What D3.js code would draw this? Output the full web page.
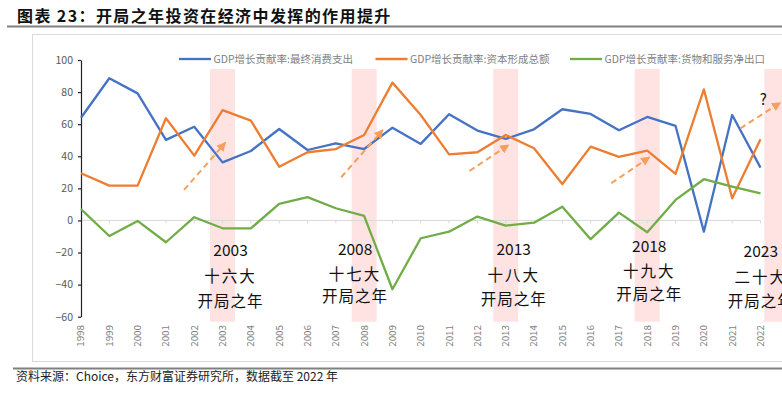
<!DOCTYPE html>
<html>
<head>
<meta charset="utf-8">
<script src="https://cdn.jsdelivr.net/npm/d3@7/dist/d3.min.js"></script>
<style>
  html, body { margin: 0; padding: 0; background: #fff; }
  svg { display: block; }
  text { font-family: "Noto Sans CJK SC", "Noto Sans", sans-serif; }
</style>
</head>
<body>
<svg id="chart" width="782" height="396"></svg>
<script>
// ---------------- data ----------------
const years = ["1998","1999","2000","2001","2002","2003","2004","2005","2006","2007","2008","2009","2010",
               "2011","2012","2013","2014","2015","2016","2017","2018","2019","2020","2021","2022"];
const consumption = [64.0, 88.6, 79.2, 50.2, 58.4, 36.2, 43.3, 57.0, 43.9, 48.1, 44.5, 57.8, 47.7,
                     66.2, 56.0, 50.8, 56.8, 69.3, 66.4, 56.2, 64.5, 58.9, -7.0, 65.7, 32.9];
const capital     = [29.4, 21.7, 21.7, 63.7, 40.4, 68.8, 62.2, 33.5, 42.5, 44.5, 53.3, 85.9, 65.7,
                     41.2, 42.5, 53.3, 45.0, 22.7, 46.0, 39.6, 43.5, 29.0, 81.7, 13.8, 50.6];
const netExports  = [7.0, -9.7, -0.3, -13.6, 2.0, -4.9, -4.9, 10.3, 14.5, 7.6, 2.8, -42.9, -11.1,
                     -7.0, 2.4, -3.2, -1.4, 8.6, -11.7, 4.9, -7.4, 12.8, 25.7, 21.1, 16.9];
const seriesNames = ["GDP增长贡献率:最终消费支出", "GDP增长贡献率:资本形成总额", "GDP增长贡献率:货物和服务净出口"];
const yTicks = [-60, -40, -20, 0, 20, 40, 60, 80, 100];
const congressYears = [2003, 2008, 2013, 2018, 2023];
const congressNames = ["十六大", "十七大", "十八大", "十九大", "二十大"];
const congressSuffix = "开局之年";
// annotation arrows in data units: [fromYear, fromValue, toYear, toValue]
const arrows = [[2001.64, 19.0, 2003.10, 48.5], [2007.19, 26.9, 2008.66, 56.4],
                [2011.72, 30.8, 2013.10, 47.0], [2016.73, 23.2, 2018.08, 39.4],
                [2021.29, 57.4, 2022.70, 73.4]];
const titleText = "图表 23：开局之年投资在经济中发挥的作用提升";
const sourceText = "资料来源：Choice，东方财富证券研究所，数据截至 2022 年";

// ---------------- layout ----------------
const colors = ["#4472C4", "#ED7D31", "#70AD47"];
const svg = d3.select("#chart");
const x = d3.scalePoint().domain(years).range([81, 760.5]);
const xLin = d3.scaleLinear().domain([1998, 2022]).range([81, 760.5]);
const y = d3.scaleLinear().domain([-60, 100]).range([316.7, 60]);

// title
svg.append("text").attr("x", 17).attr("y", 22)
  .attr("font-size", 16).attr("font-weight", "bold").attr("letter-spacing", 1.4)
  .attr("fill", "#111").text(titleText);
svg.append("line").attr("x1", 7).attr("x2", 782).attr("y1", 26.5).attr("y2", 26.5)
  .attr("stroke", "#808080").attr("stroke-width", 2);

// chart frame
svg.append("rect").attr("x", 32.5).attr("y", 34.5).attr("width", 760).attr("height", 327)
  .attr("fill", "none").attr("stroke", "#d9d9d9").attr("stroke-width", 1);

// highlight bands
const bandOffset = {2023: -12};
svg.append("g").selectAll("rect").data(congressYears).join("rect")
  .attr("x", d => xLin(d) - 12.5 + (bandOffset[d] || 0))
  .attr("y", 69).attr("width", 25).attr("height", 321.7 - 69)
  .attr("fill", "#FFE3E3");

// zero line with category ticks
svg.append("line").attr("x1", x(years[0])).attr("x2", x(years[years.length-1]))
  .attr("y1", y(0)).attr("y2", y(0)).attr("stroke", "#d9d9d9").attr("stroke-width", 1);
svg.append("g").selectAll("line").data(years.slice(1)).join("line")
  .attr("x1", d => x(d)).attr("x2", d => x(d))
  .attr("y1", y(0)).attr("y2", y(0) + 3).attr("stroke", "#d9d9d9");

// y axis
const yAxis = svg.append("g").attr("transform", `translate(${x(years[0])},0)`)
  .call(d3.axisLeft(y).tickValues(yTicks).tickSize(3).tickSizeOuter(0).tickPadding(5));
yAxis.select(".domain").attr("stroke", "#222").attr("stroke-width", 1.2);
yAxis.selectAll(".tick line").attr("stroke", "#222").attr("stroke-width", 1.2);
yAxis.selectAll("text").attr("fill", "#595959").attr("font-size", 10.5)
  .attr("font-family", "Lato, 'Noto Sans', sans-serif");

// x labels (rotated)
svg.append("g").selectAll("text").data(years).join("text")
  .attr("transform", d => `translate(${x(d)},325) rotate(-90)`)
  .attr("text-anchor", "end").attr("dy", "0.35em")
  .attr("font-size", 9.8).attr("fill", "#7f7f7f")
  .attr("font-family", "Lato, 'Noto Sans', sans-serif")
  .text(d => d);

// lines
const seriesData = [consumption, capital, netExports];
const line = d3.line().x((d, i) => x(years[i])).y(d => y(d));
svg.append("g").selectAll("path").data(seriesData).join("path")
  .attr("d", d => line(d)).attr("fill", "none")
  .attr("stroke", (d, i) => colors[i]).attr("stroke-width", 2.3)
  .attr("stroke-linejoin", "round");

// arrows
const defs = svg.append("defs");
defs.append("marker").attr("id", "ah").attr("viewBox", "0 0 10 10")
  .attr("refX", 9).attr("refY", 5).attr("markerWidth", 4.6).attr("markerHeight", 4.6)
  .attr("markerUnits", "strokeWidth").attr("orient", "auto")
  .append("path").attr("d", "M0,0 L10,5 L0,10 Z").attr("fill", "#F4A05C");
svg.append("g").selectAll("line").data(arrows).join("line")
  .attr("x1", d => xLin(d[0])).attr("y1", d => y(d[1]))
  .attr("x2", d => xLin(d[2])).attr("y2", d => y(d[3]))
  .attr("stroke", "#F4A05C").attr("stroke-width", 2)
  .attr("stroke-dasharray", "6,4").attr("marker-end", "url(#ah)");
svg.append("text").attr("x", xLin(2022.1)).attr("y", y(72)).attr("text-anchor", "middle")
  .attr("font-size", 15).attr("fill", "#111").attr("font-family", "'Noto Sans', sans-serif").text("?");

// congress annotations
const annoLayout = {2003: [8, 256, 281.7, 306.5], 2008: [-9, 255, 280, 302],
                    2013: [8, 255, 281, 305], 2018: [2, 252, 277, 300], 2023: [-28, 257, 283, 307]};
const anno = svg.append("g");
congressYears.forEach((yr, i) => {
  const L = annoLayout[yr];
  const cx = xLin(yr) + L[0];
  anno.append("text").attr("x", cx).attr("y", L[1]).attr("text-anchor", "middle")
    .attr("font-size", 15.5).attr("fill", "#111")
    .attr("font-family", "'Open Sans', 'Noto Sans', sans-serif").text(yr);
  anno.append("text").attr("x", cx).attr("y", L[2]).attr("text-anchor", "middle")
    .attr("font-size", 15.5).attr("letter-spacing", 2).attr("fill", "#111").text(congressNames[i]);
  anno.append("text").attr("x", cx).attr("y", L[3]).attr("text-anchor", "middle")
    .attr("font-size", 15.5).attr("letter-spacing", 1).attr("fill", "#111").text(congressSuffix);
});

// legend
const legendX = [179, 375.5, 570];
const lg = svg.append("g");
seriesNames.forEach((name, i) => {
  lg.append("line").attr("x1", legendX[i]).attr("x2", legendX[i] + 32)
    .attr("y1", 59).attr("y2", 59).attr("stroke", colors[i]).attr("stroke-width", 2.3);
  lg.append("text").attr("x", legendX[i] + 34.5).attr("y", 59).attr("dy", "0.35em")
    .attr("font-size", 10.5).attr("fill", "#7f7f7f").text(name);
});

// footer
svg.append("line").attr("x1", 13).attr("x2", 782).attr("y1", 368.5).attr("y2", 368.5)
  .attr("stroke", "#808080").attr("stroke-width", 2);
svg.append("text").attr("x", 16).attr("y", 381).attr("font-size", 12)
  .attr("fill", "#222").text(sourceText);
</script>
</body>
</html>
